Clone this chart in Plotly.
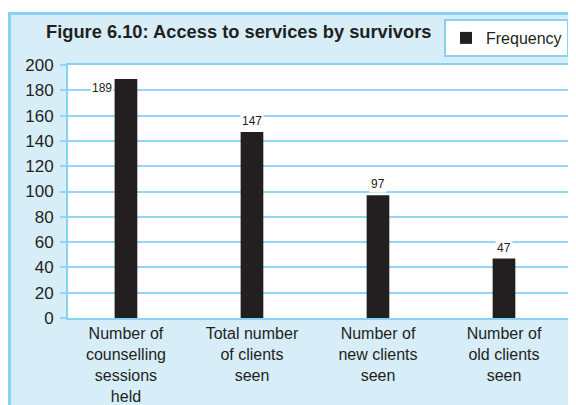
import plotly.graph_objects as go

categories = ["Number of<br>counselling<br>sessions<br>held",
              "Total number<br>of clients<br>seen",
              "Number of<br>new clients<br>seen",
              "Number of<br>old clients<br>seen"]
frequency = [189, 147, 97, 47]
y_ticks = [0, 20, 40, 60, 80, 100, 120, 140, 160, 180, 200]
series_name = "Frequency"
title_text = "Figure 6.10: Access to services by survivors"

BG = "#d7eef9"
BORDER = "#86d2f1"
GRID = "#92d7f3"
BAR = "#231f20"
TXT = "#231f20"

# page body has an 8px margin: figure origin sits at screen (8, 8)
OFF = 8
W, H = 576 - OFF, 405 - OFF
PL, PR, PT, PB = 68, 568, 65, 318          # plot area in screen pixels
L, R, T, B = PL - OFF, W - (PR - OFF), PT - OFF, H - (PB - OFF)


def px_x(p):
    return (p - PL) / (PR - PL)


def px_y(p):
    return (PB - p) / (PB - PT)


fig = go.Figure()
fig.add_trace(go.Bar(x=categories, y=frequency, name=series_name,
                     marker=dict(color=BAR, line=dict(width=0)),
                     width=0.18, showlegend=True))

annotations = []
for i, (c, v) in enumerate(zip(categories, frequency)):
    if v >= 0.9 * max(y_ticks):
        annotations.append(dict(x=c, y=v, xref="x", yref="y", text=str(v),
                                showarrow=False, xshift=-24, yshift=-9,
                                bgcolor="white", borderpad=1,
                                font=dict(family="Liberation Sans, Arial", size=12, color=TXT)))
    else:
        annotations.append(dict(x=c, y=v, xref="x", yref="y", text=str(v),
                                showarrow=False, yanchor="bottom", yshift=2,
                                bgcolor="white", borderpad=1,
                                font=dict(family="Liberation Sans, Arial", size=12, color=TXT)))

annotations.append(dict(x=px_x(238), y=px_y(31), xref="paper", yref="paper",
                        text=title_text, showarrow=False, xanchor="center", yanchor="middle",
                        font=dict(family="Liberation Sans, Arial, sans-serif",
                                  size=18.3, color=TXT, weight="bold")))

fig.update_layout(
    width=W, height=H,
    margin=dict(l=L, r=R, t=T, b=B, pad=0, autoexpand=False),
    paper_bgcolor=BG, plot_bgcolor="white",
    font=dict(family="Liberation Sans, Arial, sans-serif", size=16, color=TXT),
    bargap=0.8,
    annotations=annotations,
    legend=dict(x=px_x(569), y=px_y(19), xanchor="right", yanchor="top",
                bgcolor="white", bordercolor=BORDER, borderwidth=2,
                font=dict(size=16, color=TXT), itemwidth=30),
    shapes=[
        dict(type="rect", xref="paper", yref="paper",
             x0=px_x(0), x1=px_x(600), y0=px_y(12), y1=px_y(0),
             line=dict(width=0), fillcolor="white", layer="above"),
        dict(type="rect", xref="paper", yref="paper",
             x0=px_x(9.5), x1=px_x(600), y0=px_y(420), y1=px_y(13.5),
             line=dict(color=BORDER, width=3), fillcolor="rgba(0,0,0,0)",
             layer="above"),
    ],
)

fig.update_xaxes(range=[-0.46, 3.508], showline=True, mirror=True,
                 linecolor=BORDER, linewidth=2, showgrid=False,
                 ticks="", tickfont=dict(size=16, color=TXT), fixedrange=True)
fig.update_yaxes(range=[0, 200], tickvals=y_ticks, showline=True, mirror=True,
                 linecolor=BORDER, linewidth=2, showgrid=True, gridcolor=GRID,
                 gridwidth=2, zeroline=False,
                 ticks="outside", ticklen=6, tickcolor=GRID, tickwidth=2,
                 ticklabelstandoff=3,
                 tickfont=dict(size=17, color=TXT), fixedrange=True)

fig.write_html("out.html")
